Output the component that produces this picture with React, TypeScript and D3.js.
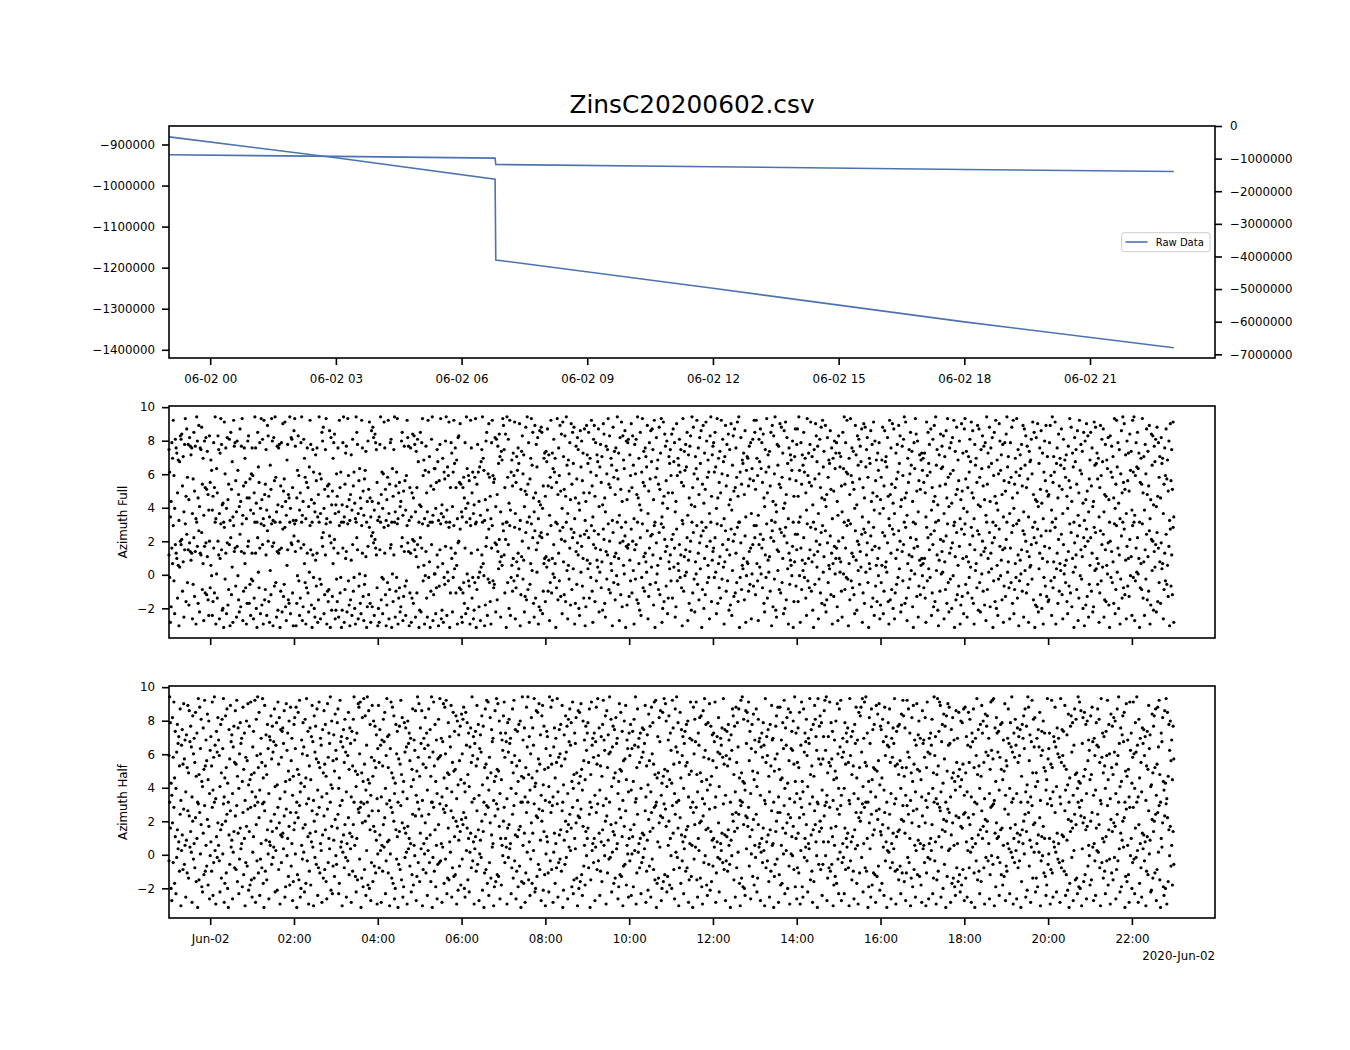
import React, { useEffect, useRef } from "react";
import * as d3 from "d3";

const chartTitle = "ZinsC20200602.csv";
const legendLabel = "Raw Data";

// raw data line (same series drawn on both y axes)
const rawTimes = [
  "2020-06-01 23:01",
  "2020-06-02 03:00",
  "2020-06-02 06:48",
  "2020-06-02 06:49",
  "2020-06-02 12:00",
  "2020-06-02 18:00",
  "2020-06-02 23:00",
];
const rawValues = [-881500, -932500, -984300, -1181200, -1250300, -1332000, -1395000];

const leftTicks = [-900000, -1000000, -1100000, -1200000, -1300000, -1400000];
const rightTicks = [0, -1000000, -2000000, -3000000, -4000000, -5000000, -6000000, -7000000];
const azimuthTicks = [-2, 0, 2, 4, 6, 8, 10];

const topTickTimes = [
  "2020-06-02 00:00", "2020-06-02 03:00", "2020-06-02 06:00", "2020-06-02 09:00",
  "2020-06-02 12:00", "2020-06-02 15:00", "2020-06-02 18:00", "2020-06-02 21:00",
];
const topTickLabels = ["06-02 00", "06-02 03", "06-02 06", "06-02 09", "06-02 12", "06-02 15", "06-02 18", "06-02 21"];
const bottomTickTimes = [
  "2020-06-02 00:00", "2020-06-02 02:00", "2020-06-02 04:00", "2020-06-02 06:00",
  "2020-06-02 08:00", "2020-06-02 10:00", "2020-06-02 12:00", "2020-06-02 14:00",
  "2020-06-02 16:00", "2020-06-02 18:00", "2020-06-02 20:00", "2020-06-02 22:00",
];
const bottomTickLabels = ["Jun-02", "02:00", "04:00", "06:00", "08:00", "10:00", "12:00", "14:00", "16:00", "18:00", "20:00", "22:00"];
const offsetLabel = "2020-Jun-02";
const axisStart = "2020-06-01 23:01";
const axisEnd = "2020-06-02 23:59";

// azimuth samples: one row per hour starting 23:01, one char per minute,
// char index in azimuthCode maps -pi..pi; every angle is drawn at a and a + 2pi
const azimuthCode = "0123456789ABCDEFGHIJKLMNOPQRSTUVWXYZabcdefghijklmnopqrstuvwxyz";
const azimuthFullRows = [
  "gT3CkbxR8mheHa1ZompLc6jyFsQjDnidh5PqIi2zlEu9hgtMb4lKnJfG7oN",
  "aU7FkKz2VHog5eyjAB0wSh8nDMm1qJZ3xikO6lUG9sCiy4LhbN2EloEP7Sh",
  "R5HzhB0qWNk8yDm2xGMg7uoF3XJyl1nOzQ6iAhj0Lk9vIPwC4ajGEz8nmK1r",
  "yi1EUoR7Hkz4CmbQ2NhK9WxjD0gTB6dOh3GzS5Pqlt8Jgy2LFMr0nAIbkp5A",
  "SFh6xKT0Akz3Mei9yRD1Gd7mLTB2zqj5OVE8xhI4PUf0ClJwE3rCtn7pkgN1",
  "B3jzGT8SwhJ1DQx5Mkm0VFgz6LTy2HN9Clq4IiO7Rxni1Kh3HpEoj6fKmZ0A",
  "q9kyRa2UiH6xTc0Lmz4JVV8NgZ1Ojy5Ab3TPlz7WRw0Kke9TxYhKa2noNvM6",
  "3KQEk8zVBRO2xhHT5AQy0MjTCW4ZgzbU1Dlq7SvQF2kxRNPn9mGiYpc6fayu",
  "gKp0zQmBx7TaLeRw5NcUhYv1JfoSd9ItGzMk3PbyXqE6uHjWn2CrAtq8LbeF",
  "fZsLd4QxKeVmTb0NyGhRuIp8wcJoFzX5aSkDvMqYt2EiPngB7rWlOeHs1Cud",
  "YqHbTxL3muFkRdZs9WjNcAvpE6iSgyMoKbX1tQfGhUzPe4nJwCoaVr0lDkmI",
  "dRvKoX2jSmGzEbAq7TyNfLhcWu5IkPrZsgDx0QnVaMtJey3BwFpiOl8HcYgR",
  "pHsZk6CvRbXmTgN1yLfUjWq4dEioAzKtS9cVxPhGnYr0MuBeJwlQaT5ozFdi",
  "kTqW8yEbNfHxSmZ2cuLjRpAgDv7XoIsKhQwFz0TnMaYeGr3UcbLiPk5VmOxq",
  "JxbR4mZsVkNpE9gTyHdWfLq1uCoSzA6jXiMvKtQe8rBwGnY2hPdaUl0FcsOj",
  "sFzU3kMdXqTbH7yReNjwLcA0gPvoZi5SmKtExWfDu9GnQaYrJh2bIlVekC4o",
  "eWcL6qVzMkTxS1bGyRhNfJ8udAoXmPiZs3KvEtWgnQ0bYrCjHw7lOaFeUk5D",
  "Qat8LrZcWnF2xGhMvBs5KePjTuYo9DiRmzEwH4bNgSqXfC0kVypIl6OdJaeU",
  "bNeH3wRqYjTs7KmCuFzXgA1dLpViWo5cMrEyQ9hSkBnUx0fGtJaOl2DvIe8s",
  "yPf6KcTmZwHrE2jXbNuAsQ9gVoLiDk4zMeWtChYn0RqFxBa7SvlUdGj3OkIp",
  "zWcN5kQtEx8MbTyHg1RdVjLu6sXoKiP3fZamSwGq0DnCv9YhJrBe2TlOuIcF",
  "GkuR7zNcTw2YhEpLbXsJ5mVaQdF8iOyKtCeW0nZgMr4HxUjSfBq1lDvIo6Pa",
  "qLh9CwXtYePb3KuRmZs6GjFaVnD0oTiQcEy8MxWkBg2SrHzNvJd5lOeIpUf7",
  "xTz4RkWqVe0NbMyHc7jSsGfLu2DpXoAiZm9tFkQcEnYb5MhRsPaIl1vOgJw3",
];
const azimuthHalfRows = [
  "RzkB4nQwEf8TjYcLs1XgMvPa6dKuHrZiW3oSbNqFe0yGtVmC9hJxLaOpDl5U",
  "cLw7QzX2fTnaR9jHmVy3EoKsB0gPuZd5WiNrMxFh8SkYbCtJe1QlOvAiDwG6",
  "WfHx3mRzKq7SbNyE0uLdGjV5caoPiTZs9XkAwMn2gQfhYr6CvUeIlDtOb4Fj",
  "nVt0JqGx6BaSkW9mEyRf2LhDcuZ1oTiPs7NwKbX3gHrMjF5vQeYzAl8OdIpU",
  "Pks8ExZc1WgNmT6bRqJhY3fLmzaI9eGvtSw0HnCyMo7XzDrBj4QuFlOiKd2V",
  "uNgX3aLmZq8RycKd1VwHtEo5BjSf0PiMxGn6CkThW2lYeOb9JsDaUr4IzQvF",
  "hYr1MbVnKe7XsQgFz0TwLjCa5PmQyRb3ZvEtSx8HkGcWu6NqIfJo2lAdOiDp",
  "SmtB6qXkGe9WhNzRc2YfLuPj4VdToAi0KsMxEw7QnHgZb1CrFyJvIl5eDaUo",
  "wQeZ2kTmYb8NsHxRg5LfCjOl0FzaEh3KtWzGc7SnEhXy9BrIqPvMd4ouAiJ1",
  "VfcK9zRtMx3WhEbNy6QgSjLu0AdPoTi5mZsXkCw8GeYnH1rBqFvJ7lOaDiUe",
  "kNs0GwXbQe4ZtMyRh7LcFjxaUo2rKdSzTm9WiEgHnYb5CvJqIf1OlPuDaV6e",
  "Rj7VfCmXz2KsWbNe8QhTgYu3LdApOi6tSkMwGx0EcHnZr4BqFyJvl9IaoDeU",
  "BxhM5sWzTk1NqEgRc8YfLjNl3GbwIa0tSmZwG6eXnHoC2rQyUjD7kPvAiFdO",
  "eZw3KcTn9SbXhQyMg4RfLjaP0dUsoGi6tNkWsE1xHzCmB7rYqlwOf5VjIpDa",
  "Ts9HmZb4WeQkX1yNcRgF6jLuab0IPioSt3JtDaEkVx8hXnBsO2qVfUlMzCe5",
  "NhKq2XwC6sTeZmR9bYyGgL3jFumcU0yPioMk7PcrxUz4HcNwLkPf1DaIlEvS8",
  "sWx4QbT8kMeZhN1yRcGfL5jYtEa2qKotTy9bwNzLe0CnY6sDgKjJ3uIpOvAi",
  "gEmZ7tRc0XkWsN5bQhYyL2fMiGjO8pKxoFh4KxTsQe1HnCuMa6XvJdlIbD3r",
  "YaQn1KwT5bSeXm8HzRc2GyLfwu6ZjBpPi0oIvXtY3gEnHaC7rNbFqJ9lDkMs4",
  "tHc6XqNmW3eZsK0bRyGgL8jFuelN2pTioRb5JwUxPy1hCneTf7QjJkDaIv4O",
  "LbsY8kWzT2eQmX5hNcRg0FjboVs6iAztOd3ZxHmWn9HbCgWq1RfUlKeI7DyP",
  "Ve2MxK6cZtW9hSbQ3yNgRfLu7JdAp0EioTk4XsGmH8zCwBr1YnFqJj5lOaUD",
  "oGtZ4bR7kXsWmN1yQeHcL8fRxDjS2pKiGnTl5MsRzY9hCdoZq0IvFaJ3wUeB",
  "QwS8kTzX3mEbN6hYgRc1LfJuVd9ApHioKs4MtWxG0eZnC7rBy2qFjUlOaDiP",
];
const azimuthLabels = ["Azimuth Full", "Azimuth Half"];

const FONT = "'DejaVu Sans', sans-serif";
const BLUE = "#4c72b0";
const X0 = 169;
const X1 = 1215;
const PANEL_TOPS = [126, 406, 686];
const PH = 232;
const TICK = 11.8;

export default function App() {
  const svgRef = useRef<SVGSVGElement>(null);

  useEffect(() => {
    if (!svgRef.current) return;
    const svg = d3.select(svgRef.current);
    svg.selectAll("*").remove();

    const parse = d3.timeParse("%Y-%m-%d %H:%M");
    const x = d3.scaleTime().domain([parse(axisStart)!, parse(axisEnd)!]).range([X0, X1]);
    const minus = (v: any) => (v < 0 ? "\u2212" + Math.abs(v) : String(v));

    const styleAxis = (g: any) => {
      g.select(".domain").remove();
      g.selectAll(".tick line").attr("stroke", "#000").attr("stroke-width", 1.6);
      g.selectAll(".tick text")
        .attr("fill", "#000")
        .attr("font-size", TICK)
        .attr("font-family", FONT);
    };

    svg.append("rect").attr("width", 1350).attr("height", 1050).attr("fill", "#fff");

    svg
      .append("text")
      .attr("x", (X0 + X1) / 2)
      .attr("y", 113.3)
      .attr("text-anchor", "middle")
      .attr("font-family", FONT)
      .attr("font-size", 24.8)
      .text(chartTitle);

    // ---- top panel
    const top = PANEL_TOPS[0];
    const yLeft = d3.scaleLinear().domain([-1420000, -855000]).range([top + PH, top]);
    const yRight = d3.scaleLinear().domain([-7113000, 0]).range([top + PH, top]);
    const raw = rawTimes.map((t, i) => ({ t: parse(t)!, v: rawValues[i] }));

    [yLeft, yRight].forEach((ys) => {
      const line = d3
        .line<any>()
        .x((d) => x(d.t))
        .y((d) => ys(d.v));
      svg
        .append("path")
        .attr("d", line(raw))
        .attr("fill", "none")
        .attr("stroke", BLUE)
        .attr("stroke-width", 1.6);
    });

    const topTicks = topTickTimes.map((t) => parse(t)!);
    svg
      .append("g")
      .attr("transform", `translate(0,${top + PH})`)
      .call(
        d3
          .axisBottom(x)
          .tickValues(topTicks)
          .tickFormat((_d: any, i: number) => topTickLabels[i])
          .tickSize(7)
          .tickPadding(9.6) as any
      )
      .call(styleAxis);
    svg
      .append("g")
      .attr("transform", `translate(${X0},0)`)
      .call(d3.axisLeft(yLeft).tickValues(leftTicks).tickFormat(minus).tickSize(7).tickPadding(7) as any)
      .call(styleAxis);
    svg
      .append("g")
      .attr("transform", `translate(${X1},0)`)
      .call(d3.axisRight(yRight).tickValues(rightTicks).tickFormat(minus).tickSize(7).tickPadding(8) as any)
      .call(styleAxis);

    svg
      .append("rect")
      .attr("x", X0)
      .attr("y", top)
      .attr("width", X1 - X0)
      .attr("height", PH)
      .attr("fill", "none")
      .attr("stroke", "#000")
      .attr("stroke-width", 1.6);

    // legend
    const lg = svg.append("g");
    lg.append("rect")
      .attr("x", 1121.7)
      .attr("y", 232.7)
      .attr("width", 88.3)
      .attr("height", 19)
      .attr("rx", 2.5)
      .attr("fill", "#fff")
      .attr("fill-opacity", 0.8)
      .attr("stroke", "#cccccc")
      .attr("stroke-width", 1);
    lg.append("line")
      .attr("x1", 1125.5)
      .attr("x2", 1147.5)
      .attr("y1", 242)
      .attr("y2", 242)
      .attr("stroke", BLUE)
      .attr("stroke-width", 1.6);
    lg.append("text")
      .attr("x", 1155.7)
      .attr("y", 245.8)
      .attr("font-family", FONT)
      .attr("font-size", 10)
      .text(legendLabel);

    // ---- azimuth panels
    const start = parse(axisStart)!.getTime();
    const bottomTicks = bottomTickTimes.map((t) => parse(t)!);
    [azimuthFullRows, azimuthHalfRows].forEach((rows, p) => {
      const pt = PANEL_TOPS[p + 1];
      const y = d3.scaleLinear().domain([-3.77, 10.07]).range([pt + PH, pt]);
      const pts: { t: Date; a: number }[] = [];
      rows.forEach((row, r) => {
        for (let j = 0; j < row.length; j++) {
          const k = azimuthCode.indexOf(row[j]);
          if (k < 0) continue;
          const a = -Math.PI + (k / (azimuthCode.length - 1)) * 2 * Math.PI;
          const t = new Date(start + (r * 60 + (j * 60) / row.length) * 60000);
          pts.push({ t, a });
        }
      });
      const dots = svg.append("g").attr("fill", "#000");
      [0, 2 * Math.PI].forEach((shift) => {
        dots
          .selectAll(null)
          .data(pts)
          .join("circle")
          .attr("cx", (d) => x(d.t))
          .attr("cy", (d) => y(d.a + shift))
          .attr("r", 1.6);
      });

      svg
        .append("g")
        .attr("transform", `translate(0,${pt + PH})`)
        .call(
          d3
            .axisBottom(x)
            .tickValues(bottomTicks)
            .tickFormat((_d: any, i: number) => (p === 1 ? bottomTickLabels[i] : ""))
            .tickSize(7)
            .tickPadding(9.6) as any
        )
        .call(styleAxis);
      svg
        .append("g")
        .attr("transform", `translate(${X0},0)`)
        .call(d3.axisLeft(y).tickValues(azimuthTicks).tickFormat(minus).tickSize(7).tickPadding(7) as any)
        .call(styleAxis);

      svg
        .append("rect")
        .attr("x", X0)
        .attr("y", pt)
        .attr("width", X1 - X0)
        .attr("height", PH)
        .attr("fill", "none")
        .attr("stroke", "#000")
        .attr("stroke-width", 1.6);

      svg
        .append("text")
        .attr("transform", `translate(126.5,${pt + PH / 2}) rotate(-90)`)
        .attr("text-anchor", "middle")
        .attr("font-family", FONT)
        .attr("font-size", TICK)
        .text(azimuthLabels[p]);
    });

    svg
      .append("text")
      .attr("x", X1)
      .attr("y", 960)
      .attr("text-anchor", "end")
      .attr("font-family", FONT)
      .attr("font-size", TICK)
      .text(offsetLabel);
  }, []);

  return (
    <svg
      ref={svgRef}
      width={1350}
      height={1050}
      style={{ position: "absolute", left: 0, top: 0, display: "block" }}
    />
  );
}
